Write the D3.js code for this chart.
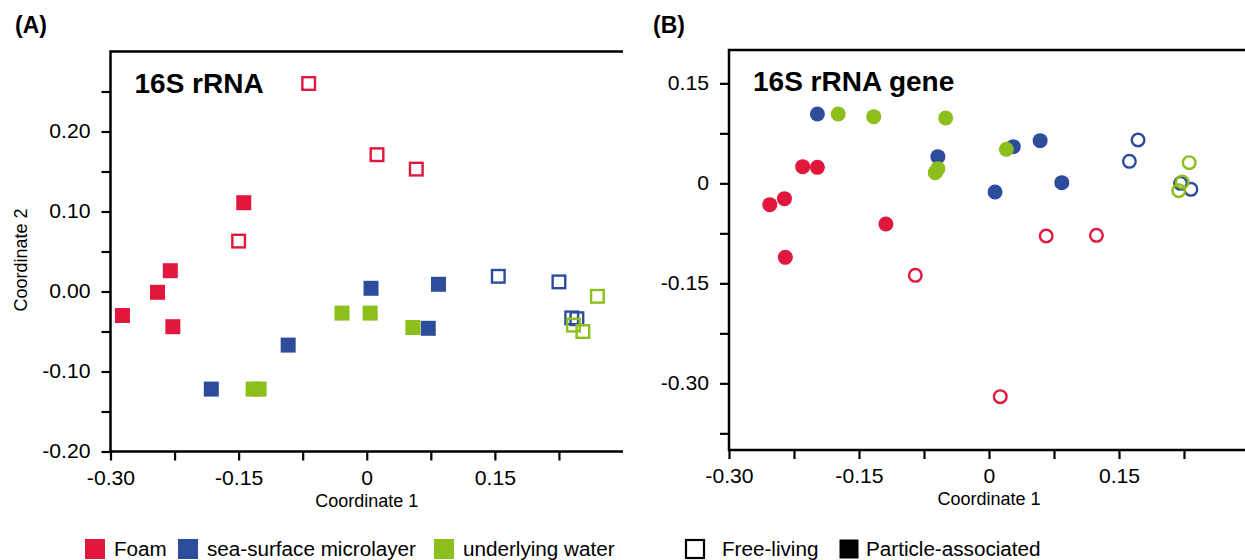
<!DOCTYPE html>
<html>
<head>
<meta charset="utf-8">
<script src="https://cdn.jsdelivr.net/npm/d3@7"></script>
<style>
  body { margin: 0; background: #fff; }
  svg { display: block; font-family: "Liberation Sans", Arial, sans-serif; }
  .spine { stroke: #000; stroke-width: 2.5; fill: none; }
  .axis path { display: none; }
  .axis line { stroke: #000; stroke-width: 2.2; }
  .axis text { font-size: 20px; fill: #000; font-family: "Liberation Sans", Arial, sans-serif; }
</style>
</head>
<body>
<div id="chart"></div>
<script>
// colours per sample type
const groups = ["Foam", "sea-surface microlayer", "underlying water"];
const groupColors = ["#e2173e", "#2e4c9c", "#8cbf1c"];

// panel A, 16S rRNA  [coordinate 1, coordinate 2]
const foamParticleA = [[-0.286, -0.030], [-0.245, -0.001], [-0.230, 0.026], [-0.227, -0.044], [-0.144, 0.111]];
const foamFreeA = [[-0.068, 0.260], [0.012, 0.171], [0.058, 0.153], [-0.150, 0.063]];
const smlParticleA = [[-0.182, -0.122], [-0.092, -0.067], [0.005, 0.004], [0.084, 0.009], [0.072, -0.046]];
const smlFreeA = [[0.154, 0.019], [0.225, 0.012], [0.240, -0.033], [0.246, -0.034]];
const uwParticleA = [[-0.133, -0.122], [-0.126, -0.122], [-0.029, -0.027], [0.004, -0.027], [0.054, -0.045]];
const uwFreeA = [[0.270, -0.006], [0.242, -0.042], [0.253, -0.050]];

// panel B, 16S rRNA gene
const foamParticleB = [[-0.253, -0.032], [-0.236, -0.023], [-0.215, 0.025], [-0.198, 0.024], [-0.235, -0.111], [-0.119, -0.061]];
const foamFreeB = [[0.066, -0.079], [0.124, -0.078], [-0.085, -0.138], [0.013, -0.320]];
const smlParticleB = [[-0.198, 0.104], [-0.059, 0.040], [0.007, -0.013], [0.028, 0.055], [0.059, 0.064], [0.084, 0.001]];
const smlFreeB = [[0.172, 0.065], [0.162, 0.033], [0.221, 0.000], [0.233, -0.009]];
const uwParticleB = [[-0.174, 0.104], [-0.133, 0.100], [-0.050, 0.098], [-0.059, 0.022], [-0.062, 0.016], [0.020, 0.051]];
const uwFreeB = [[0.231, 0.031], [0.223, 0.002], [0.219, -0.011]];

// ticks
const xTicks = [-0.30, -0.225, -0.15, -0.075, 0, 0.075, 0.15, 0.225];
const xLabels = {"-0.3": "-0.30", "-0.15": "-0.15", "0": "0", "0.15": "0.15"};
const yTicksA = [-0.20, -0.15, -0.10, -0.05, 0, 0.05, 0.10, 0.15, 0.20, 0.25];
const yLabelsA = {"-0.2": "-0.20", "-0.1": "-0.10", "0": "0.00", "0.1": "0.10", "0.2": "0.20"};
const yTicksB = [-0.375, -0.30, -0.225, -0.15, -0.075, 0, 0.075, 0.15];
const yLabelsB = {"-0.3": "-0.30", "-0.15": "-0.15", "0": "0", "0.15": "0.15"};

const W = 1245, H = 560;
const svg = d3.select("#chart").append("svg").attr("width", W).attr("height", H);
const stretch = 1.06;   // figure text is slightly wider than plain Arial

function panel(opt) {
    let g = svg.append("g");
    let x = d3.scaleLinear().domain([-0.30, 0.30]).range([opt.left, opt.right]);
    let y = d3.scaleLinear().domain(opt.yDomain).range([opt.bottom, opt.top]);

    // frame: left, top, bottom (right side is cut off in the figure)
    g.append("path").attr("class", "spine")
        .attr("d", `M${opt.right},${opt.top}H${opt.left}V${opt.bottom}H${opt.right}`);

    let ya = g.append("g").attr("class", "axis")
        .attr("transform", `translate(${opt.left},0)`)
        .call(d3.axisLeft(y).tickValues(opt.yTicks).tickSize(9).tickPadding(11)
            .tickFormat(d => opt.yLabels[String(+d.toFixed(3))] || ""));
    ya.selectAll("text").attr("x", -20 / stretch).attr("transform", `scale(${stretch},1)`);

    g.append("g").attr("class", "axis")
        .attr("transform", `translate(0,${opt.bottom})`)
        .call(d3.axisBottom(x).tickValues(xTicks).tickSize(9).tickPadding(10)
            .tickFormat(d => xLabels[String(+d.toFixed(3))] || ""))
        .selectAll("text").attr("transform", `scale(${stretch},1)`);

    g.append("text").attr("x", x(0)).attr("y", opt.bottom + 55)
        .attr("text-anchor", "middle").style("font-size", "18px").text("Coordinate 1");

    g.append("text").attr("x", opt.left + 24).attr("y", opt.top + 41)
        .style("font-size", "28px").style("font-weight", "bold").text(opt.title);

    g.append("text").attr("x", opt.tagX).attr("y", 33)
        .style("font-size", "23px").style("font-weight", "bold").text(opt.tag);

    opt.series.forEach(s => {
        let col = groupColors[s.group];
        let sel = g.append("g").selectAll(".pt").data(s.data).enter();
        if (opt.shape === "square") {
            let half = s.open ? 6.3 : 7.5;
            sel.append("rect")
                .attr("x", d => x(d[0]) - half).attr("y", d => y(d[1]) - half)
                .attr("width", half * 2).attr("height", half * 2)
                .style("fill", s.open ? "none" : col)
                .style("stroke", s.open ? col : "none")
                .style("stroke-width", 2.4);
        } else {
            sel.append("circle")
                .attr("cx", d => x(d[0])).attr("cy", d => y(d[1]))
                .attr("r", s.open ? 6.3 : 7.5)
                .style("fill", s.open ? "none" : col)
                .style("stroke", s.open ? col : "none")
                .style("stroke-width", 2.4);
        }
    });
    return g;
}

panel({
    left: 110.5, right: 623, top: 51.5, bottom: 451.5,
    yDomain: [-0.20, 0.30], yTicks: yTicksA, yLabels: yLabelsA,
    title: "16S rRNA", tag: "(A)", tagX: 15, shape: "square",
    series: [
        {data: foamParticleA, group: 0, open: false},
        {data: foamFreeA, group: 0, open: true},
        {data: smlParticleA, group: 1, open: false},
        {data: uwParticleA, group: 2, open: false},
        {data: smlFreeA, group: 1, open: true},
        {data: uwFreeA, group: 2, open: true}
    ]
});

panel({
    left: 729, right: 1249, top: 50, bottom: 450,
    yDomain: [-0.40, 0.20], yTicks: yTicksB, yLabels: yLabelsB,
    title: "16S rRNA gene", tag: "(B)", tagX: 653, shape: "circle",
    series: [
        {data: foamParticleB, group: 0, open: false},
        {data: foamFreeB, group: 0, open: true},
        {data: smlParticleB, group: 1, open: false},
        {data: uwParticleB, group: 2, open: false},
        {data: smlFreeB, group: 1, open: true},
        {data: uwFreeB, group: 2, open: true}
    ]
});

// y axis title, panel A only
svg.append("text")
    .attr("transform", "translate(27,260) rotate(-90)")
    .attr("text-anchor", "middle").style("font-size", "18px").text("Coordinate 2");

// legend
const legendColorX = [85, 178, 434];
const lg = svg.append("g");
groups.forEach((name, i) => {
    lg.append("rect").attr("x", legendColorX[i]).attr("y", 539).attr("width", 20).attr("height", 20)
        .style("fill", groupColors[i]);
    lg.append("text").attr("transform", `translate(${legendColorX[i] + 29},556) scale(${stretch},1)`)
        .style("font-size", "19.5px").text(name);
});
const lifestyles = ["Free-living", "Particle-associated"];
const lifestyleX = [686, 840];
const lifestyleTextX = [722, 866];
lifestyles.forEach((name, i) => {
    lg.append("rect").attr("x", lifestyleX[i]).attr("y", 540).attr("width", 18).attr("height", 18)
        .style("fill", i === 0 ? "none" : "#000").style("stroke", "#000").style("stroke-width", i === 0 ? 2.2 : 1);
    lg.append("text").attr("transform", `translate(${lifestyleTextX[i]},556) scale(${stretch},1)`)
        .style("font-size", "19.5px").text(name);
});
</script>
</body>
</html>
